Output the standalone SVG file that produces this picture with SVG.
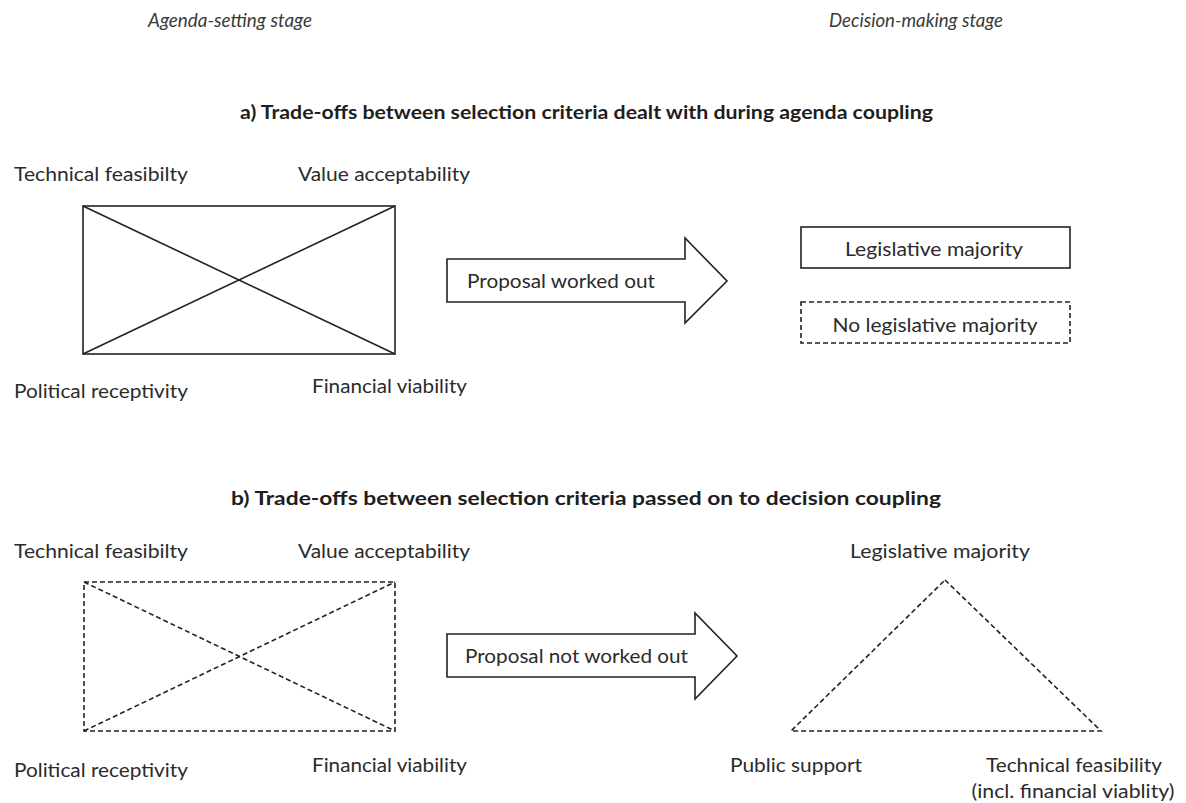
<svg xmlns="http://www.w3.org/2000/svg" width="1186" height="803" viewBox="0 0 1186 803">
<style>
text{font-family:Lato,"Open Sans","Liberation Sans",sans-serif;font-size:19.5px;fill:#2b2b2b}
.it{font-style:italic;fill:#3a3a3a;font-size:18.5px}
.b{font-weight:bold;fill:#1e1e1e;font-size:19.5px}
.m{text-anchor:middle}
.s{fill:none;stroke:#222;stroke-width:1.6}
.d{fill:none;stroke:#222;stroke-width:1.6;stroke-dasharray:5 3}
.ar{fill:#fff;stroke:#222;stroke-width:1.6;stroke-linejoin:miter}
</style>
<rect width="1186" height="803" fill="#fff"/>
<g id="stage-labels">
<text class="it" x="148" y="27" textLength="164" lengthAdjust="spacingAndGlyphs">Agenda-setting stage</text>
<text class="it" x="829" y="27" textLength="174" lengthAdjust="spacingAndGlyphs">Decision-making stage</text>
</g>
<text class="b" x="240" y="119" textLength="693" lengthAdjust="spacingAndGlyphs">a) Trade-offs between selection criteria dealt with during agenda coupling</text>
<text class="b" x="231" y="505" textLength="710" lengthAdjust="spacingAndGlyphs">b) Trade-offs between selection criteria passed on to decision coupling</text>

<g id="a-criteria">
<rect class="s" x="83" y="206" width="312" height="148"/>
<line class="s" x1="83" y1="206" x2="395" y2="354"/>
<line class="s" x1="83" y1="354" x2="395" y2="206"/>
<text x="14" y="181" textLength="174" lengthAdjust="spacingAndGlyphs">Technical feasibilty</text>
<text x="298" y="181" textLength="172" lengthAdjust="spacingAndGlyphs">Value acceptability</text>
<text x="14" y="398" textLength="174" lengthAdjust="spacingAndGlyphs">Political receptivity</text>
<text x="312" y="393" textLength="155" lengthAdjust="spacingAndGlyphs">Financial viability</text>
</g>
<g id="a-arrow">
<polygon class="ar" points="447,259 685,259 685,238 727,281 685,323 685,302 447,302"/>
<text x="467" y="288" textLength="188" lengthAdjust="spacingAndGlyphs">Proposal worked out</text>
</g>
<g id="a-majority">
<rect class="s" x="801" y="227" width="269" height="41"/>
<text class="m" x="934" y="256" textLength="178" lengthAdjust="spacingAndGlyphs">Legislative majority</text>
</g>
<g id="a-no-majority">
<rect class="d" x="801" y="302" width="269" height="41"/>
<text class="m" x="935" y="332" textLength="205" lengthAdjust="spacingAndGlyphs">No legislative majority</text>
</g>

<g id="b-criteria">
<rect class="d" x="84" y="582" width="311" height="149"/>
<line class="d" x1="84" y1="582" x2="395" y2="731"/>
<line class="d" x1="84" y1="731" x2="395" y2="582"/>
<text x="14" y="558" textLength="174" lengthAdjust="spacingAndGlyphs">Technical feasibilty</text>
<text x="298" y="558" textLength="172" lengthAdjust="spacingAndGlyphs">Value acceptability</text>
<text x="14" y="777" textLength="174" lengthAdjust="spacingAndGlyphs">Political receptivity</text>
<text x="312" y="772" textLength="155" lengthAdjust="spacingAndGlyphs">Financial viability</text>
</g>
<g id="b-arrow">
<polygon class="ar" points="447,634 695,634 695,613 737,656 695,699 695,677 447,677"/>
<text x="465" y="663" textLength="223" lengthAdjust="spacingAndGlyphs">Proposal not worked out</text>
</g>
<g id="b-triangle">
<polygon class="d" points="945,580 1101,731 791,731"/>
<text class="m" x="940" y="558" textLength="180" lengthAdjust="spacingAndGlyphs">Legislative majority</text>
<text class="m" x="796" y="772" textLength="132" lengthAdjust="spacingAndGlyphs">Public support</text>
<text class="m" x="1074" y="772" textLength="176" lengthAdjust="spacingAndGlyphs">Technical feasibility</text>
<text class="m" x="1073" y="798" textLength="203" lengthAdjust="spacingAndGlyphs">(incl. financial viablity)</text>
</g>
</svg>
